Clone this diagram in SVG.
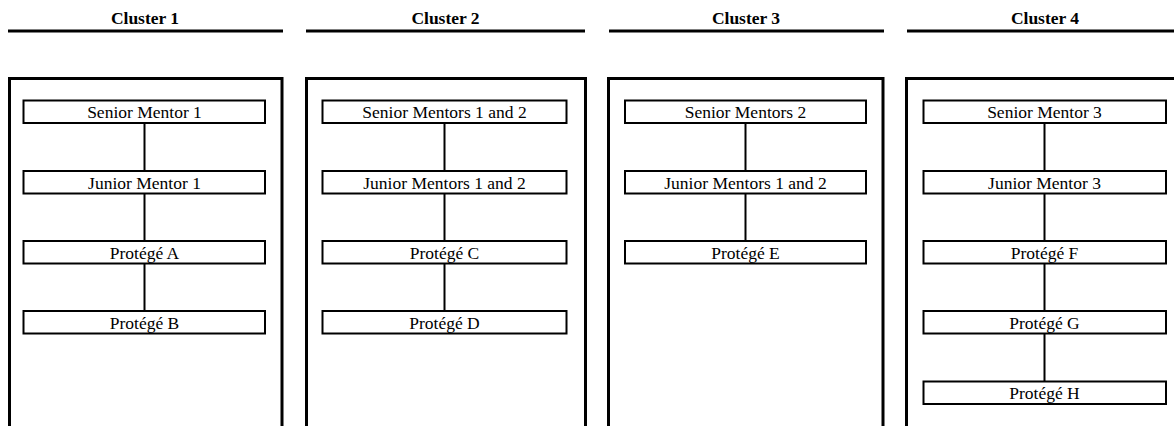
<svg xmlns="http://www.w3.org/2000/svg" width="1174" height="426" viewBox="0 0 1174 426">
  <style>
    .title { font-family: "Liberation Serif", "Times New Roman", serif; font-weight: bold; font-size: 17.5px; text-anchor: middle; fill: #000; }
    .rule { stroke: #000; stroke-width: 3; fill: none; }
    .frame { stroke: #000; stroke-width: 3; fill: none; }
    .node rect { fill: #fff; stroke: #000; stroke-width: 2; }
    .node text { font-family: "Liberation Serif", "Times New Roman", serif; font-size: 17.5px; text-anchor: middle; fill: #000; }
    .link { stroke: #000; stroke-width: 2; fill: none; }
  </style>

  <!-- cluster headings with rules -->
  <g id="headings">
    <text class="title" x="145" y="24">Cluster 1</text>
    <line class="rule" x1="8" y1="31" x2="283" y2="31"/>
    <text class="title" x="445.5" y="24">Cluster 2</text>
    <line class="rule" x1="306" y1="31" x2="585" y2="31"/>
    <text class="title" x="746" y="24">Cluster 3</text>
    <line class="rule" x1="609" y1="31" x2="884" y2="31"/>
    <text class="title" x="1045" y="24">Cluster 4</text>
    <line class="rule" x1="907" y1="31" x2="1180" y2="31"/>
  </g>

  <!-- open-bottom cluster frames -->
  <g id="frames">
    <path class="frame" d="M9.5,430 V78.5 H282 V430"/>
    <path class="frame" d="M306.5,430 V78.5 H585.5 V430"/>
    <path class="frame" d="M608.5,430 V78.5 H883 V430"/>
    <path class="frame" d="M906.5,430 V78.5 H1190 V430"/>
  </g>

  <!-- vertical connectors -->
  <g id="connectors">
    <line class="link" x1="144.5" y1="123" x2="144.5" y2="311"/>
    <line class="link" x1="444.5" y1="123" x2="444.5" y2="311"/>
    <line class="link" x1="745.5" y1="123" x2="745.5" y2="241"/>
    <line class="link" x1="1044.5" y1="123" x2="1044.5" y2="381"/>
  </g>

  <!-- Cluster 1 -->
  <g id="c1-senior" class="node"><rect x="23.5" y="100.5" width="241.5" height="22.5"/><text x="144.5" y="118">Senior Mentor 1</text></g>
  <g id="c1-junior" class="node"><rect x="23.5" y="171" width="241.5" height="22.5"/><text x="144.5" y="188.5">Junior Mentor 1</text></g>
  <g id="c1-protege-a" class="node"><rect x="23.5" y="241" width="241.5" height="22.5"/><text x="144.5" y="258.5">Protégé A</text></g>
  <g id="c1-protege-b" class="node"><rect x="23.5" y="311" width="241.5" height="22.5"/><text x="144.5" y="328.5">Protégé B</text></g>

  <!-- Cluster 2 -->
  <g id="c2-senior" class="node"><rect x="322.5" y="100.5" width="244" height="22.5"/><text x="444.5" y="118">Senior Mentors 1 and 2</text></g>
  <g id="c2-junior" class="node"><rect x="322.5" y="171" width="244" height="22.5"/><text x="444.5" y="188.5">Junior Mentors 1 and 2</text></g>
  <g id="c2-protege-c" class="node"><rect x="322.5" y="241" width="244" height="22.5"/><text x="444.5" y="258.5">Protégé C</text></g>
  <g id="c2-protege-d" class="node"><rect x="322.5" y="311" width="244" height="22.5"/><text x="444.5" y="328.5">Protégé D</text></g>

  <!-- Cluster 3 -->
  <g id="c3-senior" class="node"><rect x="625" y="100.5" width="241" height="22.5"/><text x="745.5" y="118">Senior Mentors 2</text></g>
  <g id="c3-junior" class="node"><rect x="625" y="171" width="241" height="22.5"/><text x="745.5" y="188.5">Junior Mentors 1 and 2</text></g>
  <g id="c3-protege-e" class="node"><rect x="625" y="241" width="241" height="22.5"/><text x="745.5" y="258.5">Protégé E</text></g>

  <!-- Cluster 4 -->
  <g id="c4-senior" class="node"><rect x="923.5" y="100.5" width="242.5" height="22.5"/><text x="1044.5" y="118">Senior Mentor 3</text></g>
  <g id="c4-junior" class="node"><rect x="923.5" y="171" width="242.5" height="22.5"/><text x="1044.5" y="188.5">Junior Mentor 3</text></g>
  <g id="c4-protege-f" class="node"><rect x="923.5" y="241" width="242.5" height="22.5"/><text x="1044.5" y="258.5">Protégé F</text></g>
  <g id="c4-protege-g" class="node"><rect x="923.5" y="311" width="242.5" height="22.5"/><text x="1044.5" y="328.5">Protégé G</text></g>
  <g id="c4-protege-h" class="node"><rect x="923.5" y="381.5" width="242.5" height="22.5"/><text x="1044.5" y="399">Protégé H</text></g>
</svg>
